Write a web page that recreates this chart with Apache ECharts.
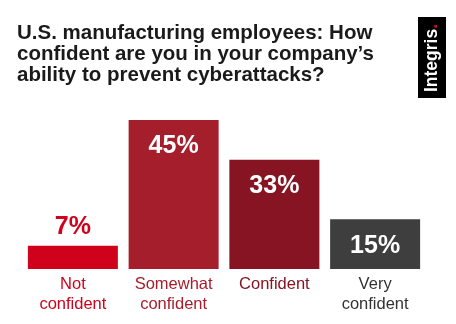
<!DOCTYPE html>
<html><head><meta charset="utf-8">
<script src="https://cdn.jsdelivr.net/npm/echarts@6/dist/echarts.min.js"></script>
<style>html,body{margin:0;padding:0;background:#fff}#c{width:456px;height:324px}</style>
</head><body><div id="c"></div>
<script>
const categories = ['Not\nconfident', 'Somewhat\nconfident', 'Confident', 'Very\nconfident'];
const values = [7, 45, 33, 15];
const barColors = ['#d0021b', '#a51e2c', '#861422', '#3e3e3e'];
const labelColors = ['#d0021b', '#a51e2c', '#861422', '#333333'];
const titleText = 'U.S. manufacturing employees: How\nconfident are you in your company\u2019s\nability to prevent cyberattacks?';

const FONT = '"Liberation Sans", Arial, sans-serif';
const chart = echarts.init(document.getElementById('c'), null, {renderer: 'canvas'});
chart.setOption({
  backgroundColor: '#ffffff',
  animation: false,
  title: {
    text: titleText, left: 17, top: 23, padding: 0,
    textStyle: {fontFamily: FONT, fontSize: 20.5, fontWeight: 'bold', color: '#1a1a1a', lineHeight: 21}
  },
  grid: {left: 22.5, right: 30.5, top: 120, bottom: 55, containLabel: false},
  xAxis: {
    type: 'category', data: categories,
    axisLine: {show: false}, axisTick: {show: false},
    axisLabel: {
      interval: 0, margin: 5, fontFamily: FONT, fontSize: 16.5, lineHeight: 20,
      color: function (v, i) { return labelColors[i]; }
    }
  },
  yAxis: {type: 'value', min: 0, max: 45, show: false, splitLine: {show: false}},
  series: [{
    type: 'bar', barWidth: 90,
    data: values.map(function (v, i) {
      const small = v < 10;
      return {
        value: v,
        itemStyle: {color: barColors[i]},
        label: {
          show: true, formatter: '{c}%',
          position: small ? 'top' : 'insideTop',
          distance: small ? 6 : 14,
          color: small ? barColors[i] : '#ffffff',
          fontFamily: FONT, fontSize: 25, fontWeight: 'bold'
        }
      };
    })
  }],
  graphic: [
    {type: 'rect', shape: {x: 418, y: 17, width: 28, height: 81}, style: {fill: '#000'}},
    {type: 'text', x: 432, y: 58, rotation: Math.PI / 2,
     style: {
       text: '{a|Integris}{b|.}', align: 'center', verticalAlign: 'middle',
       rich: {
         a: {fontFamily: FONT, fontSize: 17.5, fontWeight: 'bold', fill: '#fff'},
         b: {fontFamily: FONT, fontSize: 17.5, fontWeight: 'bold', fill: '#e0102a'}
       }
     }}
  ]
});
</script></body></html>
